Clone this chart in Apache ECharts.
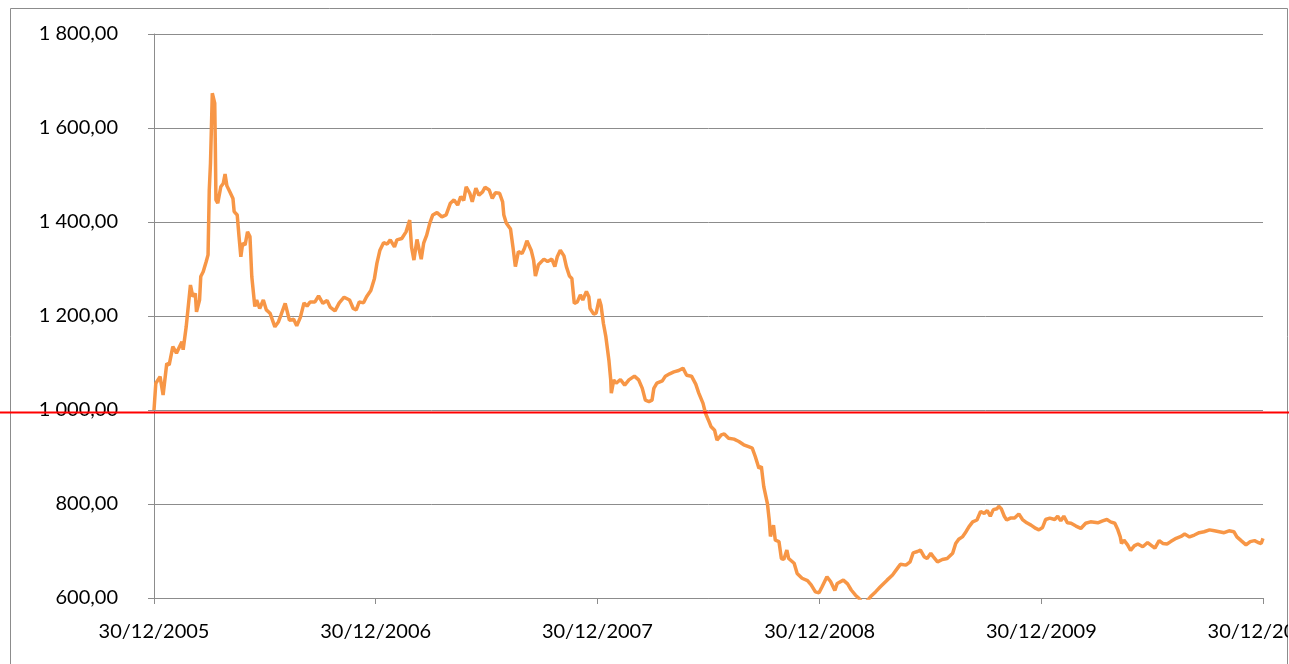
<!DOCTYPE html>
<html>
<head>
<meta charset="utf-8">
<script src="https://cdn.jsdelivr.net/npm/echarts@6/dist/echarts.min.js"></script>
<style>
  html, body { margin: 0; padding: 0; background: #fff; }
  #chart { width: 1289px; height: 664px; }
</style>
</head>
<body>
<div id="chart"></div>
<script>
  // valeurs (base 1000 au 30/12/2005)
  var dates = [
    '2005-12-30', '2006-01-02', '2006-01-09', '2006-01-14', '2006-01-20', '2006-01-24', '2006-01-30', '2006-02-05',
    '2006-02-14', '2006-02-16', '2006-02-21', '2006-02-28', '2006-03-04', '2006-03-08', '2006-03-10', '2006-03-15',
    '2006-03-17', '2006-03-21', '2006-03-26', '2006-03-29', '2006-03-31', '2006-04-02', '2006-04-05', '2006-04-07',
    '2006-04-09', '2006-04-10', '2006-04-11', '2006-04-14', '2006-04-19', '2006-04-23', '2006-04-26', '2006-04-29',
    '2006-05-04', '2006-05-09', '2006-05-11', '2006-05-16', '2006-05-19', '2006-05-22', '2006-05-25', '2006-05-29',
    '2006-06-02', '2006-06-06', '2006-06-09', '2006-06-14', '2006-06-17', '2006-06-22', '2006-06-28', '2006-07-03',
    '2006-07-09', '2006-07-17', '2006-07-23', '2006-07-27', '2006-08-03', '2006-08-10', '2006-08-17', '2006-08-22',
    '2006-08-28', '2006-09-03', '2006-09-08', '2006-09-13', '2006-09-21', '2006-09-27', '2006-10-04', '2006-10-11',
    '2006-10-16', '2006-10-24', '2006-10-31', '2006-11-08', '2006-11-17', '2006-11-23', '2006-11-28', '2006-12-03',
    '2006-12-10', '2006-12-15', '2006-12-22', '2006-12-28', '2007-01-01', '2007-01-06', '2007-01-12', '2007-01-18',
    '2007-01-23', '2007-01-30', '2007-02-03', '2007-02-11', '2007-02-18', '2007-02-24', '2007-02-27', '2007-03-03',
    '2007-03-08', '2007-03-11', '2007-03-15', '2007-03-19', '2007-03-24', '2007-03-29', '2007-04-03', '2007-04-10',
    '2007-04-18', '2007-04-25', '2007-05-02', '2007-05-08', '2007-05-14', '2007-05-19', '2007-05-24', '2007-05-28',
    '2007-06-03', '2007-06-07', '2007-06-13', '2007-06-18', '2007-06-24', '2007-06-28', '2007-07-05', '2007-07-10',
    '2007-07-15', '2007-07-22', '2007-07-27', '2007-07-29', '2007-08-02', '2007-08-09', '2007-08-13', '2007-08-17',
    '2007-08-22', '2007-08-28', '2007-09-01', '2007-09-05', '2007-09-12', '2007-09-16', '2007-09-19', '2007-09-24',
    '2007-10-03', '2007-10-09', '2007-10-16', '2007-10-21', '2007-10-25', '2007-10-30', '2007-11-05', '2007-11-09',
    '2007-11-14', '2007-11-18', '2007-11-22', '2007-11-27', '2007-12-02', '2007-12-06', '2007-12-12', '2007-12-16',
    '2007-12-18', '2007-12-24', '2007-12-28', '2008-01-02', '2008-01-05', '2008-01-09', '2008-01-13', '2008-01-18',
    '2008-01-21', '2008-01-22', '2008-01-26', '2008-01-30', '2008-02-06', '2008-02-13', '2008-02-20', '2008-02-29',
    '2008-03-07', '2008-03-13', '2008-03-18', '2008-03-24', '2008-03-29', '2008-04-01', '2008-04-06', '2008-04-15',
    '2008-04-20', '2008-04-27', '2008-05-04', '2008-05-12', '2008-05-19', '2008-05-25', '2008-06-02', '2008-06-09',
    '2008-06-14', '2008-06-21', '2008-06-25', '2008-07-01', '2008-07-04', '2008-07-10', '2008-07-14', '2008-07-21',
    '2008-07-26', '2008-08-02', '2008-08-11', '2008-08-19', '2008-08-27', '2008-09-04', '2008-09-10', '2008-09-15',
    '2008-09-21', '2008-09-25', '2008-09-29', '2008-10-05', '2008-10-08', '2008-10-10', '2008-10-15', '2008-10-18',
    '2008-10-24', '2008-10-28', '2008-11-01', '2008-11-06', '2008-11-09', '2008-11-18', '2008-11-23', '2008-12-01',
    '2008-12-10', '2008-12-16', '2008-12-23', '2008-12-29', '2009-01-03', '2009-01-11', '2009-01-17', '2009-01-24',
    '2009-01-28', '2009-02-07', '2009-02-14', '2009-02-20', '2009-02-27', '2009-03-05', '2009-03-11', '2009-03-17',
    '2009-03-24', '2009-04-01', '2009-04-09', '2009-04-20', '2009-04-29', '2009-05-07', '2009-05-12', '2009-05-21',
    '2009-05-28', '2009-06-02', '2009-06-09', '2009-06-14', '2009-06-20', '2009-06-25', '2009-07-01', '2009-07-05',
    '2009-07-12', '2009-07-20', '2009-07-28', '2009-08-06', '2009-08-11', '2009-08-16', '2009-08-22', '2009-08-28',
    '2009-09-02', '2009-09-08', '2009-09-15', '2009-09-21', '2009-09-27', '2009-10-02', '2009-10-07', '2009-10-12',
    '2009-10-18', '2009-10-21', '2009-10-25', '2009-10-30', '2009-11-03', '2009-11-09', '2009-11-16', '2009-11-23',
    '2009-11-29', '2009-12-06', '2009-12-13', '2009-12-21', '2009-12-26', '2010-01-01', '2010-01-06', '2010-01-13',
    '2010-01-21', '2010-01-26', '2010-01-31', '2010-02-05', '2010-02-11', '2010-02-17', '2010-02-25', '2010-03-05',
    '2010-03-13', '2010-03-21', '2010-04-02', '2010-04-10', '2010-04-17', '2010-04-23', '2010-04-30', '2010-05-05',
    '2010-05-09', '2010-05-11', '2010-05-15', '2010-05-21', '2010-05-26', '2010-06-01', '2010-06-07', '2010-06-15',
    '2010-06-23', '2010-06-30', '2010-07-05', '2010-07-12', '2010-07-18', '2010-07-25', '2010-07-31', '2010-08-09',
    '2010-08-17', '2010-08-23', '2010-08-31', '2010-09-08', '2010-09-16', '2010-09-24', '2010-10-03', '2010-10-11',
    '2010-10-19', '2010-10-27', '2010-11-04', '2010-11-12', '2010-11-17', '2010-11-24', '2010-12-02', '2010-12-09',
    '2010-12-16', '2010-12-22', '2010-12-27', '2010-12-30'
  ]
  var values = [
    1000, 1057, 1071, 1032, 1099, 1096, 1135, 1121,
    1145, 1128, 1177, 1266, 1241, 1248, 1209, 1234,
    1284, 1294, 1316, 1330, 1468, 1525, 1674, 1670,
    1653, 1560, 1447, 1440, 1475, 1482, 1502, 1477,
    1464, 1450, 1422, 1415, 1369, 1326, 1355, 1351,
    1379, 1369, 1284, 1220, 1234, 1216, 1234, 1213,
    1206, 1177, 1188, 1202, 1227, 1191, 1193, 1179,
    1197, 1228, 1221, 1230, 1230, 1243, 1227, 1233,
    1219, 1211, 1228, 1240, 1234, 1216, 1213, 1230,
    1228, 1241, 1254, 1280, 1312, 1340, 1356, 1353,
    1362, 1347, 1362, 1365, 1379, 1404, 1347, 1319,
    1363, 1362, 1321, 1355, 1372, 1397, 1415, 1420,
    1411, 1415, 1440, 1447, 1436, 1454, 1446, 1475,
    1461, 1443, 1472, 1457, 1464, 1474, 1468, 1450,
    1462, 1461, 1443, 1415, 1398, 1385, 1347, 1305,
    1337, 1333, 1344, 1360, 1340, 1319, 1285, 1309,
    1321, 1316, 1321, 1305, 1326, 1340, 1328, 1305,
    1285, 1280, 1227, 1230, 1245, 1234, 1252, 1241,
    1216, 1204, 1206, 1236, 1223, 1184, 1156, 1106,
    1064, 1036, 1064, 1057, 1065, 1053, 1064, 1072,
    1064, 1046, 1021, 1018, 1021, 1046, 1057, 1062,
    1072, 1077, 1081, 1084, 1089, 1074, 1072, 1055,
    1036, 1014, 993, 975, 965, 957, 936, 947,
    949, 940, 938, 933, 926, 922, 919, 901,
    876, 880, 837, 801, 766, 731, 755, 723,
    720, 684, 682, 702, 684, 674, 652, 642,
    637, 628, 613, 611, 624, 645, 635, 616,
    631, 638, 630, 617, 606, 599, 588, 592,
    603, 613, 624, 638, 649, 663, 672, 670,
    677, 696, 699, 702, 688, 684, 695, 688,
    677, 682, 684, 695, 716, 725, 730, 741,
    752, 762, 766, 784, 780, 786, 774, 788,
    790, 795, 790, 774, 766, 770, 770, 779,
    767, 760, 755, 748, 745, 750, 767, 770,
    767, 774, 764, 774, 760, 759, 753, 748,
    759, 762, 760, 764, 767, 762, 759, 745,
    730, 716, 723, 713, 701, 711, 715, 709,
    718, 711, 706, 722, 716, 715, 720, 727,
    731, 736, 730, 734, 739, 741, 745, 743,
    741, 739, 743, 741, 730, 722, 713, 720,
    722, 718, 716, 727
  ]
  var yearTicks = ['2005-12-30', '2006-12-30', '2007-12-30', '2008-12-30', '2009-12-30', '2010-12-30']
  var refLevel = 996

  function pad (n) {
    return n < 10 ? '0' + n : '' + n
  }
  function toTime (s) {
    var p = s.split('-')
    return new Date(+p[0], +p[1] - 1, +p[2]).getTime()
  }
  function fmtDate (t) {
    var d = new Date(t)
    return pad(d.getDate()) + '/' + pad(d.getMonth() + 1) + '/' + d.getFullYear()
  }
  function fmtNum (v) {
    var s = v >= 1000 ? Math.floor(v / 1000) + ' ' + ('00' + (v % 1000)).slice(-3) : '' + v
    return s + ',00'
  }

  var tickTimes = yearTicks.map(toTime)
  var seriesData = dates.map(function (d, i) { return [toTime(d), values[i]] })

  var font = 'Lato, "Open Sans", sans-serif'
  var chart = echarts.init(document.getElementById('chart'))
  chart.setOption({
    animation: false,
    backgroundColor: '#fff',
    grid: { left: 154, top: 34, right: 26, bottom: 66, containLabel: false, outerBoundsMode: 'none' },
    xAxis: {
      // axe en millisecondes, graduations au 30/12 de chaque annee
      type: 'value',
      min: tickTimes[0],
      max: tickTimes[tickTimes.length - 1],
      axisLine: { lineStyle: { color: '#8c8c8c', width: 1 } },
      axisTick: { show: true, length: 6, inside: false, customValues: tickTimes, lineStyle: { color: '#8c8c8c' } },
      axisLabel: {
        customValues: tickTimes,
        formatter: function (v) { return fmtDate(v) },
        color: '#000',
        fontFamily: font,
        fontSize: 20,
        margin: 24,
        showMinLabel: true,
        showMaxLabel: true
      },
      splitLine: { show: false }
    },
    yAxis: {
      type: 'value',
      min: 600,
      max: 1800,
      interval: 200,
      axisLine: { show: true, lineStyle: { color: '#8c8c8c', width: 1 } },
      axisTick: { show: true, length: 6, lineStyle: { color: '#8c8c8c' } },
      axisLabel: {
        formatter: fmtNum,
        color: '#000',
        fontFamily: font,
        fontSize: 20,
        margin: 36
      },
      splitLine: { show: true, lineStyle: { color: '#8c8c8c', width: 1 } }
    },
    series: [
      {
        type: 'line',
        data: seriesData,
        showSymbol: false,
        clip: true,
        lineStyle: { color: '#F79646', width: 3.5 },
        z: 3
      }
    ]
  })

  // ligne rouge de reference sur toute la largeur, placee via l'echelle y
  var refY = Math.round(chart.convertToPixel({ yAxisIndex: 0 }, refLevel)) + 0.5
  chart.setOption({
    graphic: [
      {
        type: 'rect',
        shape: { x: 10.5, y: 8.5, width: 1277, height: 700 },
        style: { fill: 'none', stroke: '#8c8c8c', lineWidth: 1 },
        z: 0
      },
      {
        type: 'rect',
        shape: { x: 1288, y: 605, width: 10, height: 60 },
        style: { fill: '#fff' },
        z: 50
      },
      {
        type: 'line',
        shape: { x1: 0, y1: refY, x2: 1289, y2: refY },
        style: { stroke: '#ff0000', lineWidth: 2 },
        z: 100
      }
    ]
  })
</script>
</body>
</html>
